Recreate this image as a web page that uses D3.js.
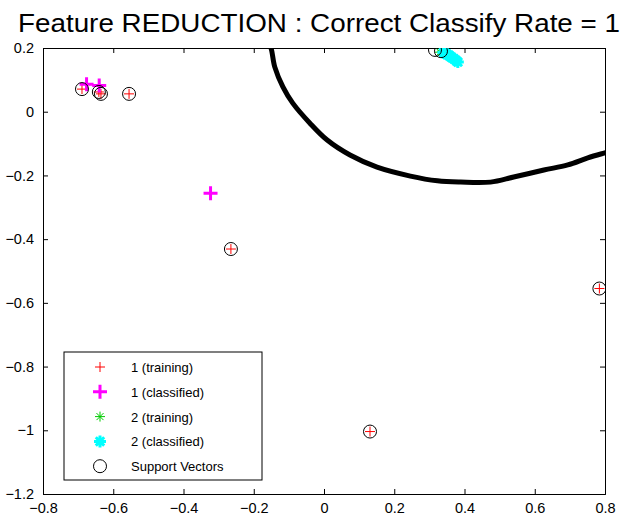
<!DOCTYPE html>
<html>
<head>
<meta charset="utf-8">
<script src="https://cdn.jsdelivr.net/npm/d3@7"></script>
<style>
  body { margin: 0; background: #fff; }
  text { font-family: "Liberation Sans", Arial, sans-serif; }
</style>
</head>
<body>
<div id="chart"></div>
<script>
// data
const trainA = [[-0.689, 0.071], [-0.641, 0.062], [-0.635, 0.056], [-0.555, 0.056],
                [-0.265, -0.431], [0.131, -1.004], [0.784, -0.555]];
const classA = [[-0.676, 0.086], [-0.640, 0.082], [-0.323, -0.256]];
const trainB = [[0.330, 0.187], [0.336, 0.190]];
const classB = [[0.340, 0.186], [0.345, 0.183], [0.350, 0.180], [0.356, 0.177],
                [0.360, 0.173], [0.364, 0.170], [0.370, 0.166], [0.376, 0.161], [0.381, 0.156]];
const supportVecs = [[-0.689, 0.071], [-0.641, 0.062], [-0.635, 0.056], [-0.555, 0.056],
                     [-0.265, -0.431], [0.131, -1.004], [0.784, -0.555], [0.316, 0.194], [0.333, 0.190]];
const boundary = [[-0.157, 0.21], [-0.151, 0.2], [-0.140, 0.140], [-0.117, 0.078], [-0.089, 0.027],
                  [-0.040, -0.036], [0.009, -0.089], [0.074, -0.136], [0.151, -0.174],
                  [0.246, -0.202], [0.323, -0.217], [0.389, -0.221], [0.474, -0.221],
                  [0.540, -0.205], [0.626, -0.183], [0.694, -0.167], [0.751, -0.145], [0.797, -0.130], [0.81, -0.126]];
const xTicks = [-0.8, -0.6, -0.4, -0.2, 0, 0.2, 0.4, 0.6, 0.8];
const yTicks = [0.2, 0, -0.2, -0.4, -0.6, -0.8, -1, -1.2];
const legendLabels = ["1 (training)", "1 (classified)", "2 (training)", "2 (classified)", "Support Vectors"];

const W = 624, H = 518;
const margin = {top: 48, right: 19, bottom: 24, left: 43};
const width = W - margin.left - margin.right,
      height = H - margin.top - margin.bottom;

const svg = d3.select("#chart").append("svg")
    .attr("width", W)
    .attr("height", H);

svg.append("text")
    .attr("x", 18).attr("y", 32)
    .attr("font-size", 25)
    .attr("textLength", 602)
    .attr("lengthAdjust", "spacingAndGlyphs")
    .text("Feature REDUCTION : Correct Classify Rate = 1");

const g = svg.append("g")
    .attr("transform", "translate(" + margin.left + "," + margin.top + ")");

const x = d3.scaleLinear().domain([-0.8, 0.8]).range([0, width]);
const y = d3.scaleLinear().domain([-1.2, 0.2]).range([height, 0]);

svg.append("clipPath").attr("id", "clip")
    .append("rect").attr("width", width).attr("height", height);

const fmt = d => d === 0 ? "0" : d3.format("")(+d.toFixed(1));

// axes, matlab style ticks pointing inward
g.append("g").attr("transform", "translate(0," + height + ")")
    .call(d3.axisBottom(x).tickValues(xTicks).tickSize(-5).tickPadding(9).tickFormat(fmt));
g.append("g")
    .call(d3.axisTop(x).tickValues(xTicks).tickSize(-5).tickFormat(""));
g.append("g")
    .call(d3.axisLeft(y).tickValues(yTicks).tickSize(-5).tickPadding(9).tickFormat(fmt));
g.append("g").attr("transform", "translate(" + width + ",0)")
    .call(d3.axisRight(y).tickValues(yTicks).tickSize(-5).tickFormat(""));
g.selectAll(".domain").attr("stroke", "#000").attr("stroke-width", 1);
g.selectAll(".tick line").attr("stroke", "#000");
g.selectAll(".tick text").attr("font-size", 14.5).attr("fill", "#000")
    .style("font-family", "'Liberation Sans', Arial, sans-serif");

const plot = g.append("g").attr("clip-path", "url(#clip)");

// decision boundary
plot.append("path")
    .datum(boundary)
    .attr("fill", "none")
    .attr("stroke", "#000")
    .attr("stroke-width", 5)
    .attr("d", d3.line().x(d => x(d[0])).y(d => y(d[1])).curve(d3.curveCatmullRom));

function plus(sel, size, color, sw) {
    sel.append("path")
        .attr("d", "M" + (-size) + ",0H" + size + "M0," + (-size) + "V" + size)
        .attr("stroke", color).attr("stroke-width", sw).attr("fill", "none");
}
function star(sel, size, color, sw) {
    const s = size * 0.7;
    sel.append("path")
        .attr("d", "M" + (-size) + ",0H" + size + "M0," + (-size) + "V" + size +
            "M" + (-s) + "," + (-s) + "L" + s + "," + s + "M" + (-s) + "," + s + "L" + s + "," + (-s))
        .attr("stroke", color).attr("stroke-width", sw).attr("fill", "none");
}

plot.selectAll(".tA").data(trainA).enter().append("g")
    .attr("transform", d => "translate(" + x(d[0]) + "," + y(d[1]) + ")")
    .each(function () { plus(d3.select(this), 5, "#ff0000", 1); });
plot.selectAll(".cA").data(classA).enter().append("g")
    .attr("transform", d => "translate(" + x(d[0]) + "," + y(d[1]) + ")")
    .each(function () { plus(d3.select(this), 7, "#ff00ff", 3); });
plot.selectAll(".tB").data(trainB).enter().append("g")
    .attr("transform", d => "translate(" + x(d[0]) + "," + y(d[1]) + ")")
    .each(function () { star(d3.select(this), 5, "#00cc00", 1); });
plot.selectAll(".cB").data(classB).enter().append("g")
    .attr("transform", d => "translate(" + x(d[0]) + "," + y(d[1]) + ")")
    .each(function () { star(d3.select(this), 6, "#00ffff", 3); });
plot.selectAll(".sv").data(supportVecs).enter().append("circle")
    .attr("cx", d => x(d[0])).attr("cy", d => y(d[1]))
    .attr("r", 6.5).attr("fill", "none").attr("stroke", "#000").attr("stroke-width", 1);

// legend
const leg = svg.append("g").attr("transform", "translate(64,352)");
leg.append("rect").attr("width", 198).attr("height", 128)
    .attr("fill", "#fff").attr("stroke", "#000");
const rows = leg.selectAll(".row").data(legendLabels).enter().append("g")
    .attr("transform", (d, i) => "translate(0," + (15 + i * 24.8) + ")");
rows.append("text").attr("x", 67).attr("y", 5).attr("font-size", 13).text(d => d);
rows.each(function (d, i) {
    const m = d3.select(this).append("g").attr("transform", "translate(36,0)");
    if (i === 0) plus(m, 5, "#ff0000", 1);
    if (i === 1) plus(m, 7, "#ff00ff", 3);
    if (i === 2) star(m, 5, "#00cc00", 1);
    if (i === 3) star(m, 6, "#00ffff", 3);
    if (i === 4) m.append("circle").attr("r", 6.5).attr("fill", "none").attr("stroke", "#000");
});
</script>
</body>
</html>
